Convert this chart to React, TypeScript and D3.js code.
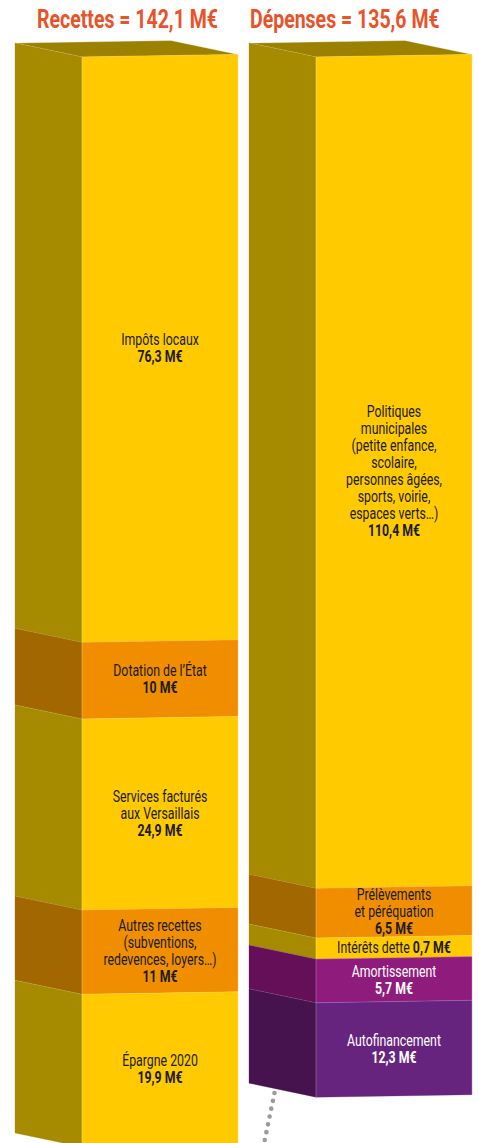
import React from "react";
import * as d3 from "d3";

const recettesLabels: string[][] = [
  ["Impôts locaux"],
  ["Dotation de l’État"],
  ["Services facturés", "aux Versaillais"],
  ["Autres recettes", "(subventions,", "redevences, loyers…)"],
  ["Épargne 2020"],
];
const recettesValues = [76.3, 10, 24.9, 11, 19.9];
const recettesKinds = ["yellow", "orange", "yellow", "orange", "yellow"];

const depensesLabels: string[][] = [
  ["Politiques", "municipales", "(petite enfance,", "scolaire,", "personnes âgées,", "sports, voirie,", "espaces verts…)"],
  ["Prélèvements", "et péréquation"],
  ["Intérêts dette"],
  ["Amortissement"],
  ["Autofinancement"],
];
const depensesValues = [110.4, 6.5, 0.7, 5.7, 12.3];
const depensesKinds = ["yellow", "orange", "yellow", "magenta", "purple"];
const depensesInline = [false, false, true, false, false];

const palette: Record<string, { front: string; side: string; text: string }> = {
  yellow: { front: "#FFCA00", side: "#A68A00", text: "#1b1b1b" },
  orange: { front: "#F08E00", side: "#A36700", text: "#1b1b1b" },
  magenta: { front: "#8F1C7D", side: "#650F59", text: "#ffffff" },
  purple: { front: "#66247F", side: "#47134F", text: "#ffffff" },
};
const topColor = "#9C8000";
const titleColor = "#E8532A";
const FONT = "Roboto, 'Liberation Sans', sans-serif";
const SX = 0.77;
const TITLE_SX = 0.75;

const W = 479;
const H = 1143;
const TOP = 57;
const DEPTH_X = 67;
const DEPTH_Y = 14;
const SLOPE = 2.5;
const MIN_H = 21;
const LH = 17;
const FS = 16;

const y = d3.scaleLinear().domain([0, 142.1]).range([0, 1090]);

const fmt = (v: number) =>
  Number.isInteger(v) ? String(v) : v.toFixed(1).replace(".", ",");

function heights(values: number[]) {
  const h = values.map((v) => y(v));
  let extra = 0;
  h.forEach((d, i) => {
    if (d < MIN_H) {
      extra += MIN_H - d;
      h[i] = MIN_H;
    }
  });
  const imax = d3.maxIndex(values);
  h[imax] -= extra;
  return h;
}

function Column(props: {
  x0: number;
  x1: number;
  title: string;
  titleX: number;
  labels: string[][];
  values: number[];
  kinds: string[];
  inline?: boolean[];
}) {
  const { x0, x1, labels, values, kinds, inline } = props;
  const xs = x0 - DEPTH_X;
  const hs = heights(values);
  let cum = TOP;
  const segs = values.map((v, i) => {
    const yT = cum;
    const yB = cum + hs[i];
    cum = yB;
    return { v, i, yT, yB };
  });
  const total = d3.sum(values);
  const cx = (x0 + x1) / 2;
  const bottom = cum;
  return (
    <g>
      <text
        transform={`translate(${props.titleX},0) scale(${TITLE_SX},1)`}
        x={0}
        y={28}
        fontFamily={FONT}
        fontWeight="bold"
        fontSize={26}
        fill={titleColor}
      >
        {`${props.title} = ${fmt(Math.round(total * 10) / 10)} M€`}
      </text>
      <polygon
        points={`${xs},${TOP - DEPTH_Y} ${x1 - DEPTH_X},${TOP - SLOPE - DEPTH_Y} ${x1},${TOP - SLOPE} ${x0},${TOP}`}
        fill={topColor}
        stroke="rgba(255,255,255,0.45)"
        strokeWidth={0.7}
      />
      <line
        x1={xs}
        y1={TOP - DEPTH_Y}
        x2={x0}
        y2={TOP}
        stroke="rgba(255,255,255,0.35)"
        strokeWidth={0.8}
        strokeDasharray="3 3"
      />
      {segs.map((s) => {
        const c = palette[kinds[s.i]];
        return (
          <g key={s.i}>
            <polygon
              points={`${xs},${s.yT - DEPTH_Y} ${x0},${s.yT} ${x0},${s.yB} ${xs},${s.yB - DEPTH_Y}`}
              fill={c.side}
              stroke={c.side}
              strokeWidth={0.3}
            />
            <polygon
              points={`${x0},${s.yT} ${x1},${s.yT - SLOPE} ${x1},${s.yB - SLOPE} ${x0},${s.yB}`}
              fill={c.front}
              stroke={c.front}
              strokeWidth={0.3}
            />
          </g>
        );
      })}
      {segs.map((s) =>
        s.i === 0 ? null : (
          <g key={"b" + s.i}>
            <line x1={x0} y1={s.yT} x2={x1} y2={s.yT - SLOPE} stroke="rgba(255,255,255,0.3)" strokeWidth={0.6} />
            <line x1={xs} y1={s.yT - DEPTH_Y} x2={x0} y2={s.yT} stroke="rgba(255,255,255,0.2)" strokeWidth={0.6} />
          </g>
        )
      )}
      <line x1={x0} y1={TOP} x2={x0} y2={bottom} stroke="rgba(255,255,255,0.35)" strokeWidth={0.7} />
      <line x1={x1} y1={TOP - SLOPE} x2={x1} y2={bottom - SLOPE} stroke="rgba(255,255,255,0.35)" strokeWidth={0.7} />
      {segs.map((s) => {
        const c = palette[kinds[s.i]];
        const lines = labels[s.i];
        const cy = (s.yT + s.yB) / 2 - SLOPE / 2;
        const tf = `translate(${cx},0) scale(${SX},1)`;
        if (inline && inline[s.i]) {
          return (
            <text key={"t" + s.i} transform={tf} x={0} y={cy + 5.5} textAnchor="middle" fontFamily={FONT} fontSize={FS} fill={c.text}>
              {lines.join(" ") + " "}
              <tspan fontWeight="bold">{`${fmt(s.v)} M€`}</tspan>
            </text>
          );
        }
        const n = lines.length + 1;
        const y0 = cy - ((n - 1) * LH) / 2 + 5.5;
        return (
          <text key={"t" + s.i} transform={tf} textAnchor="middle" fontFamily={FONT} fontSize={FS} fill={c.text}>
            {lines.map((l, k) => (
              <tspan key={k} x={0} y={y0 + k * LH}>
                {l}
              </tspan>
            ))}
            <tspan x={0} y={y0 + lines.length * LH} fontWeight="bold">
              {`${fmt(s.v)} M€`}
            </tspan>
          </text>
        );
      })}
    </g>
  );
}

export default function App() {
  return (
    <svg
      width={W}
      height={H}
      viewBox={`0 0 ${W} ${H}`}
      style={{ position: "absolute", left: 0, top: 0, background: "#fff" }}
    >
      <Column
        x0={82}
        x1={238}
        title="Recettes"
        titleX={37}
        labels={recettesLabels}
        values={recettesValues}
        kinds={recettesKinds}
      />
      <Column
        x0={316}
        x1={472}
        title="Dépenses"
        titleX={250}
        labels={depensesLabels}
        values={depensesValues}
        kinds={depensesKinds}
        inline={depensesInline}
      />
      <line
        x1={274.5}
        y1={1093}
        x2={263.5}
        y2={1146}
        stroke="#9b9b9b"
        strokeWidth={4.6}
        strokeLinecap="round"
        strokeDasharray="0 8"
      />
    </svg>
  );
}
